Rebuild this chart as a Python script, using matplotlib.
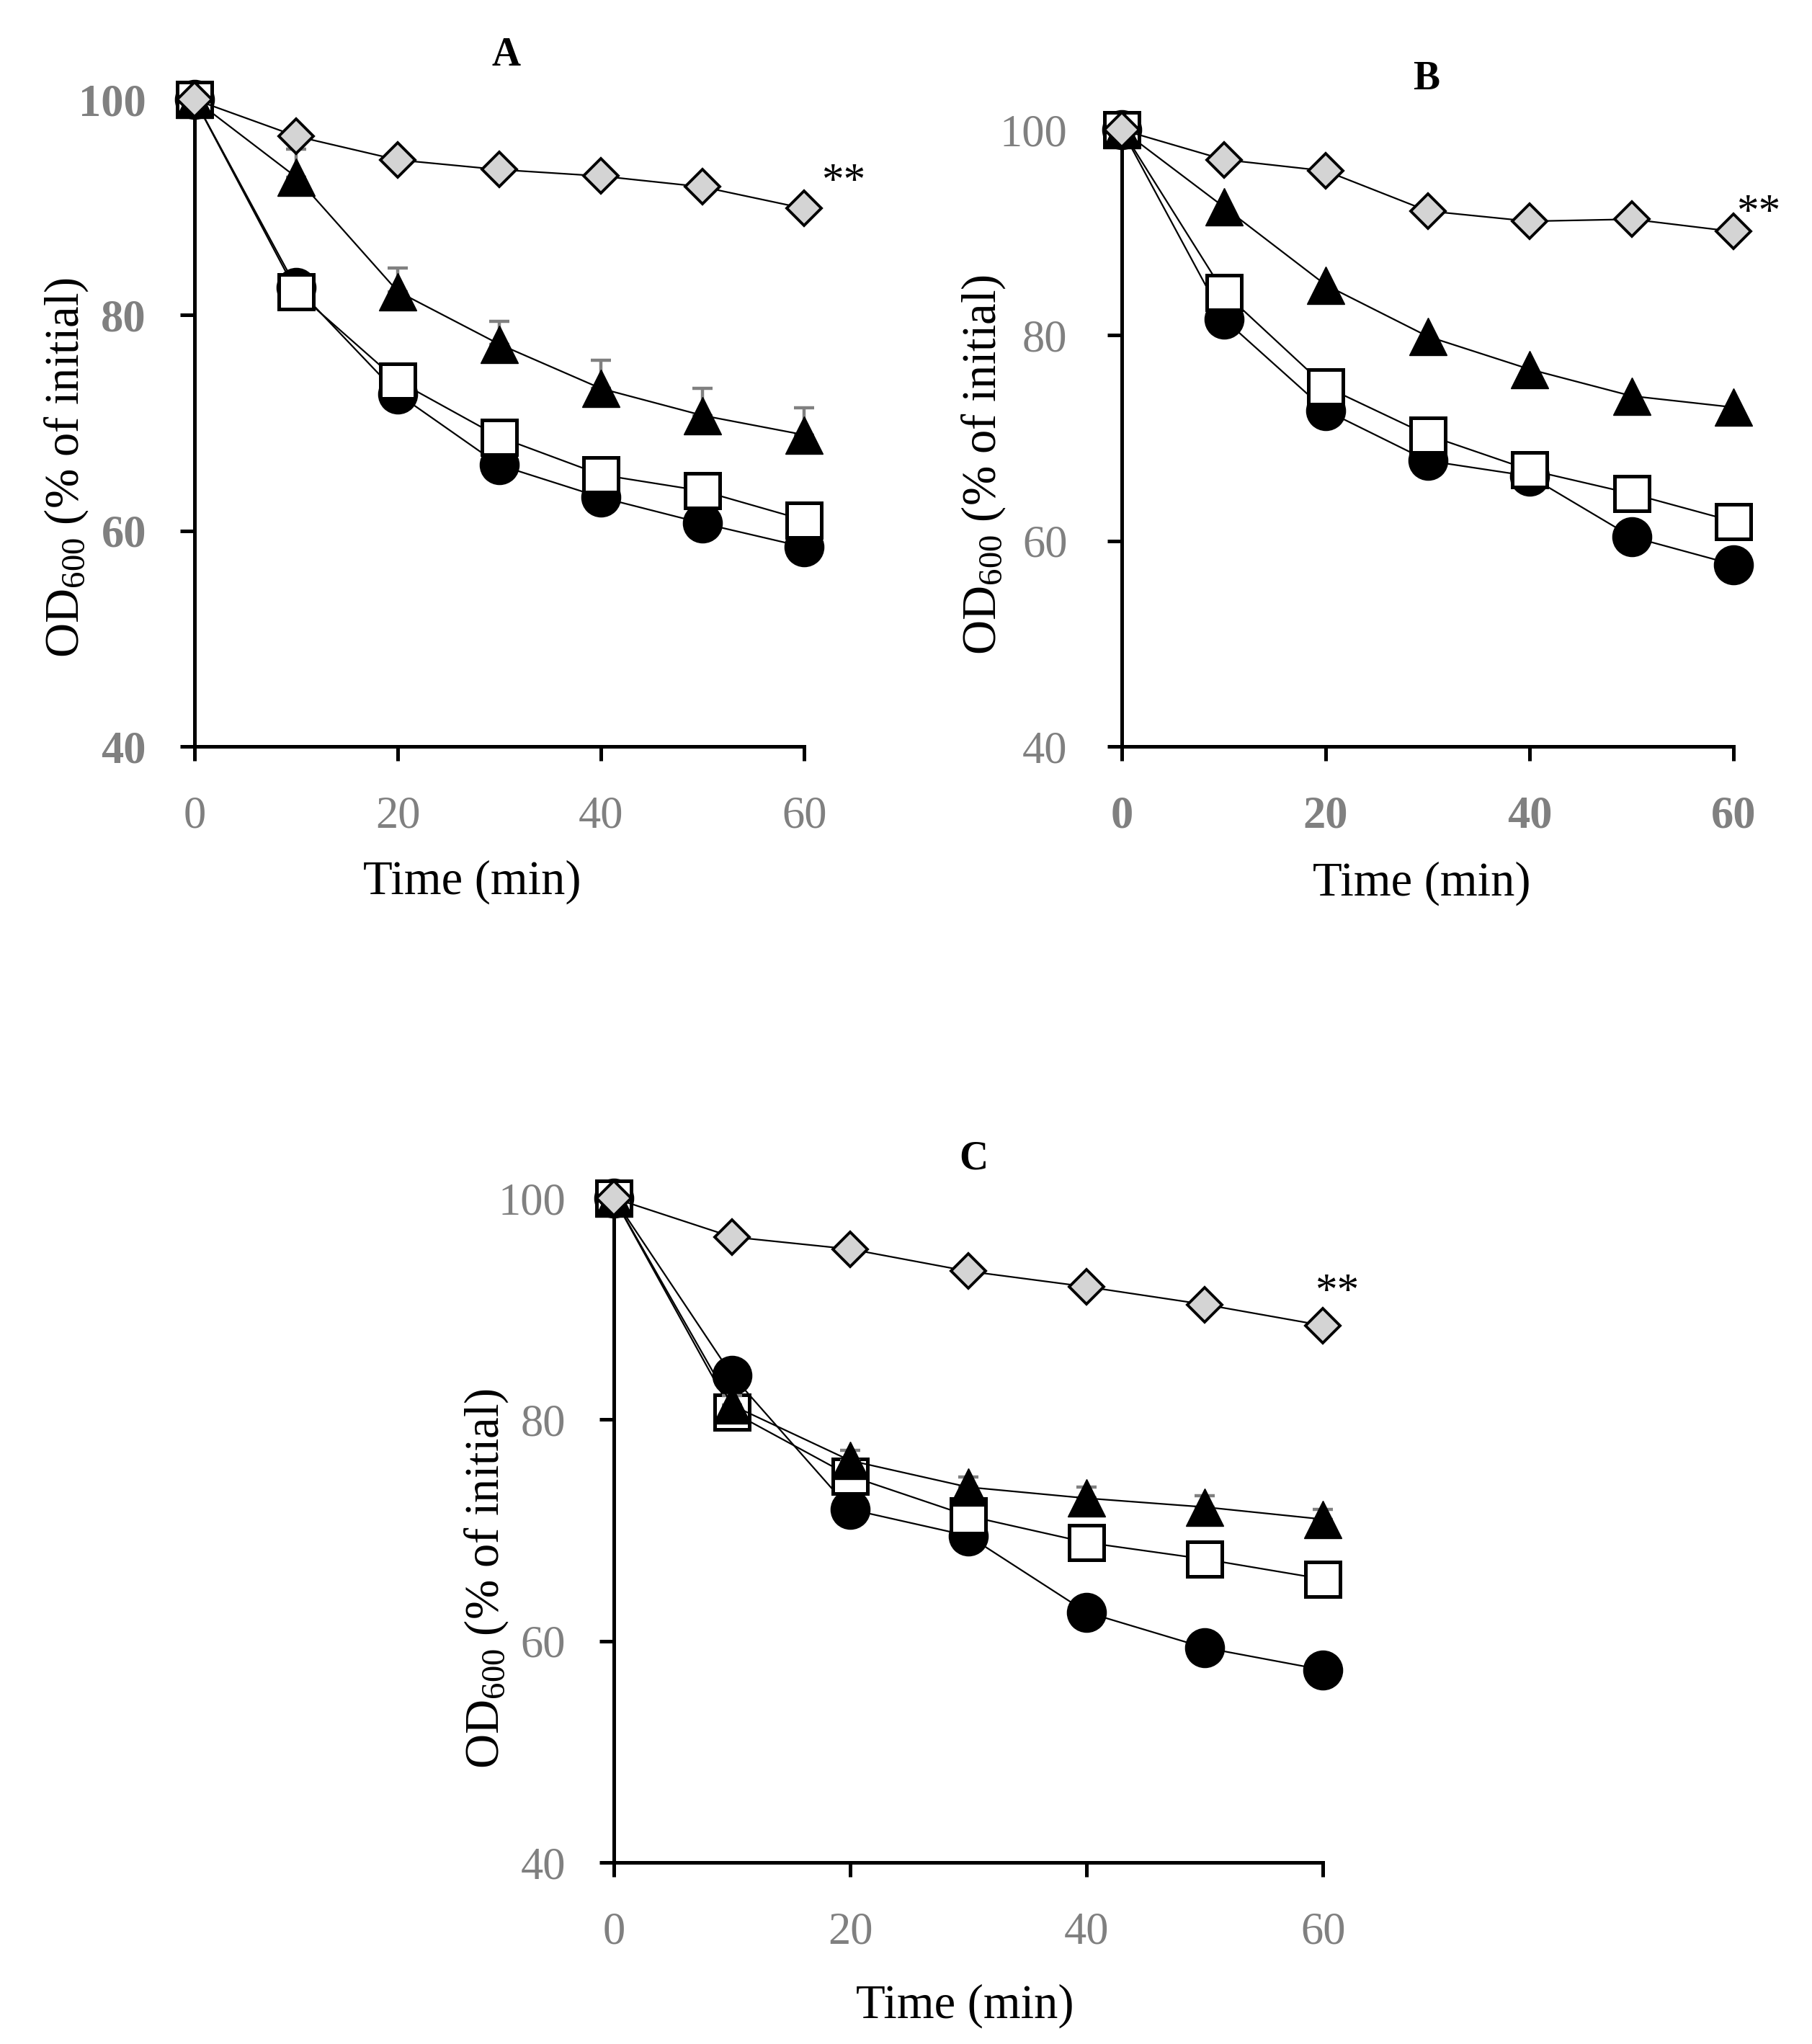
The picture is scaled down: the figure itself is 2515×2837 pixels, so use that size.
import matplotlib
matplotlib.use("Agg")
import matplotlib.pyplot as plt
import numpy as np

plt.rcParams['font.family'] = ['Liberation Serif', 'DejaVu Serif']
plt.rcParams['mathtext.default'] = 'regular'

time = [0, 10, 20, 30, 40, 50, 60]

# panel A
a_circle = [100, 82.6, 72.7, 66.1, 63.1, 60.7, 58.5]
a_square = [100, 82.2, 73.9, 68.7, 65.2, 63.7, 61.0]
a_triangle = [100, 92.8, 82.2, 77.3, 73.2, 70.7, 68.9]
a_tri_err = [0, 2.6, 2.2, 2.1, 2.6, 2.5, 2.5]
a_diamond = [100, 96.6, 94.4, 93.5, 92.9, 91.9, 89.9]

# panel B
b_circle = [100, 81.6, 72.7, 67.8, 66.3, 60.4, 57.7]
b_square = [100, 84.2, 75.0, 70.3, 66.9, 64.6, 61.9]
b_triangle = [100, 92.5, 84.9, 79.9, 76.7, 74.1, 73.0]
b_tri_err = [0, 0, 0, 0, 0, 0, 0]
b_diamond = [100, 97.1, 96.0, 92.1, 91.1, 91.3, 90.1]

# panel C
c_circle = [100, 84.0, 71.9, 69.5, 62.6, 59.4, 57.4]
c_square = [100, 80.7, 74.9, 71.3, 68.9, 67.4, 65.6]
c_triangle = [100, 81.3, 76.3, 73.9, 72.9, 72.1, 71.0]
c_tri_err = [0, 0.9, 0.9, 0.9, 1.0, 1.0, 0.9]
c_diamond = [100, 96.5, 95.4, 93.4, 92.0, 90.4, 88.5]

x_ticks = [0, 20, 40, 60]
y_ticks = [40, 60, 80, 100]

GRAY = '#808080'

fig = plt.figure(figsize=(25.15, 28.37), dpi=100)

panels = [
    # letter, rect, data, ytick bold, xtick bold, ypad, ylabel pos, xlabel pos, title pos, star offset
    ('A', [0.1074, 0.6348, 0.3364, 0.3165], (a_circle, a_square, a_triangle, a_tri_err, a_diamond),
     'bold', 'normal', 34, (-0.210, 0.431), (0.455, -0.210), (0.511, 1.068), (39, 26)),
    ('B', [0.6191, 0.6348, 0.3376, 0.3017], (b_circle, b_square, b_triangle, b_tri_err, b_diamond),
     'normal', 'bold', 40, (-0.226, 0.457), (0.490, -0.222), (0.498, 1.082), (25, 18)),
    ('C', [0.3388, 0.0888, 0.3913, 0.3250], (c_circle, c_square, c_triangle, c_tri_err, c_diamond),
     'normal', 'normal', 34, (-0.180, 0.427), (0.495, -0.216), (0.507, 1.059), (14, 33)),
]

for letter, rect, data, ywt, xwt, ypad, ylpos, xlpos, tpos, star in panels:
    circle, square, triangle, tri_err, diamond = data
    ax = fig.add_axes(rect)

    ax.plot(time, circle, color='black', lw=1.6, marker='o', ms=39,
            mfc='black', mec='black', mew=1, clip_on=False, zorder=3)
    ax.plot(time, square, color='black', lw=1.6, marker='s', ms=34,
            mfc='white', mec='black', mew=3.6, clip_on=False, zorder=4)
    if any(e > 0 for e in tri_err):
        ax.errorbar(time, triangle, yerr=[np.zeros(len(tri_err)), tri_err], fmt='none',
                    ecolor=GRAY, elinewidth=3.2, capsize=10, capthick=3.2,
                    clip_on=False, zorder=4.5)
    ax.plot(time, triangle, color='black', lw=1.6, marker='^', ms=38,
            mfc='black', mec='black', mew=1, clip_on=False, zorder=5)
    ax.plot(time, diamond, color='black', lw=1.6, marker='D', ms=24,
            mfc='#d4d4d4', mec='black', mew=2.8, clip_on=False, zorder=6)

    ax.set_xlim(0, 60)
    ax.set_ylim(40, 100)
    ax.set_xticks(x_ticks)
    ax.set_yticks(y_ticks)
    for s in ['top', 'right']:
        ax.spines[s].set_visible(False)
    for s in ['left', 'bottom']:
        ax.spines[s].set_linewidth(3.6)
    ax.tick_params(axis='both', direction='out', length=14.4, width=3.6, colors='black',
                   labelcolor=GRAY, labelsize=45)
    ax.tick_params(axis='x', pad=35)
    ax.tick_params(axis='y', pad=ypad)
    for lab in ax.get_yticklabels():
        lab.set_fontweight(ywt)
    for lab in ax.get_xticklabels():
        lab.set_fontweight(xwt)

    ax.set_ylabel('OD$_{600}$ (% of initial)', fontsize=48, va='center')
    ax.yaxis.set_label_coords(*ylpos)
    ax.set_xlabel('Time (min)', fontsize=48, va='center')
    ax.xaxis.set_label_coords(*xlpos)

    ax.text(tpos[0], tpos[1], letter, transform=ax.transAxes, ha='center', va='center',
            fontsize=40, fontweight='bold')
    ax.annotate('**', xy=(time[-1], diamond[-1]), xytext=star, textcoords='offset points',
                ha='center', va='center', fontsize=44, annotation_clip=False)

fig.savefig('out.png', dpi=100)
